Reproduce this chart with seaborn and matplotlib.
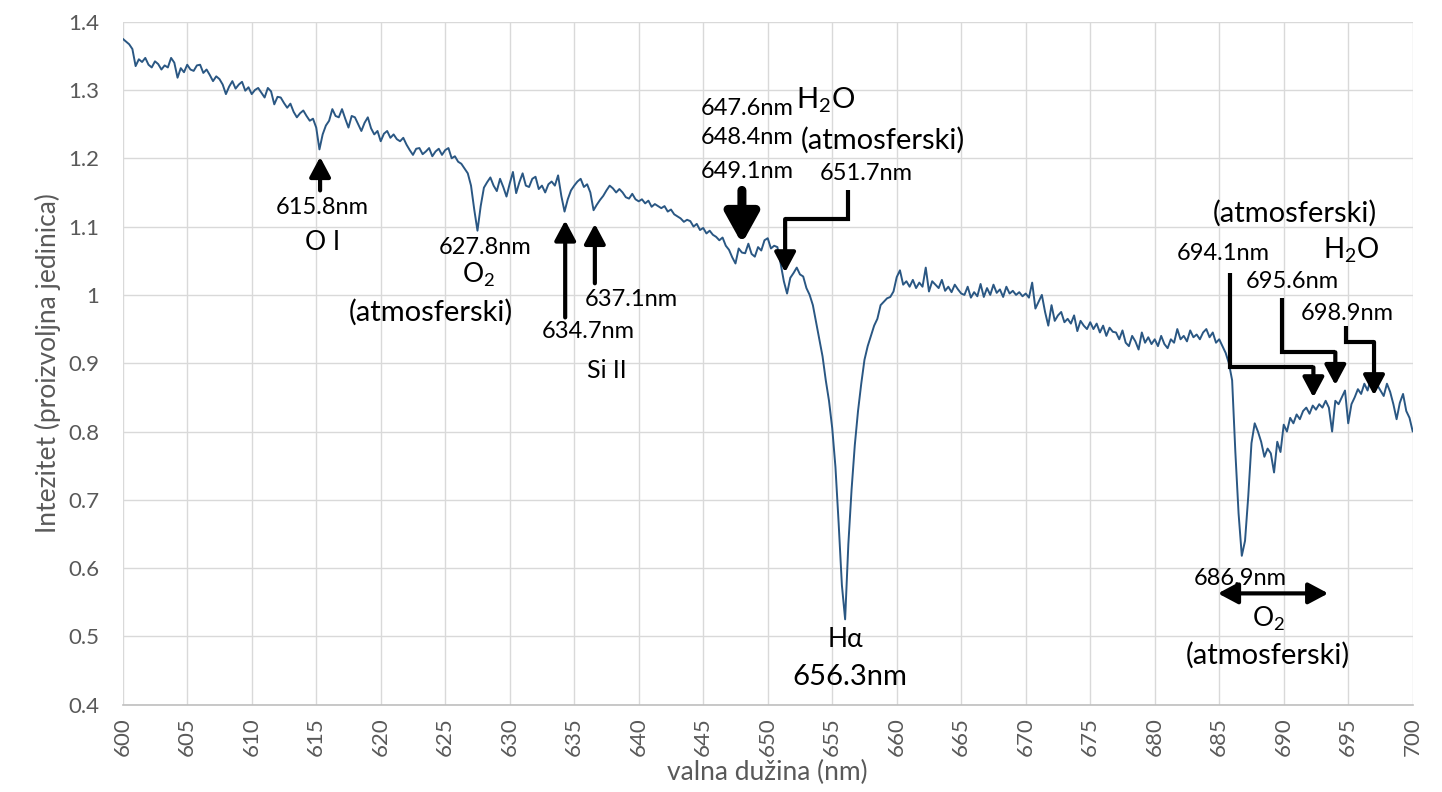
import matplotlib
matplotlib.use("Agg")

import numpy as np
import pandas as pd
import matplotlib.pyplot as plt
import seaborn as sns

wavelength = np.arange(600, 700.001, 0.25)
intensity = [
    1.375, 1.371, 1.367, 1.360, 1.335, 1.345, 1.341, 1.347, 1.337, 1.333, 1.342, 1.338, 1.330, 1.336, 1.333, 1.347, 1.340, 1.318, 1.332, 1.326,  # 600
    1.337, 1.330, 1.328, 1.336, 1.337, 1.325, 1.330, 1.322, 1.313, 1.320, 1.316, 1.308, 1.294, 1.305, 1.313, 1.302, 1.308, 1.312, 1.299, 1.304,  # 605
    1.294, 1.300, 1.303, 1.296, 1.289, 1.303, 1.298, 1.279, 1.290, 1.289, 1.281, 1.274, 1.280, 1.268, 1.260, 1.266, 1.270, 1.262, 1.255, 1.258,  # 610
    1.245, 1.213, 1.235, 1.248, 1.255, 1.272, 1.262, 1.260, 1.272, 1.258, 1.245, 1.262, 1.260, 1.250, 1.240, 1.252, 1.260, 1.244, 1.235, 1.240,  # 615
    1.225, 1.236, 1.240, 1.230, 1.235, 1.228, 1.225, 1.230, 1.220, 1.212, 1.205, 1.214, 1.215, 1.206, 1.210, 1.215, 1.203, 1.210, 1.214, 1.205,  # 620
    1.212, 1.215, 1.200, 1.203, 1.195, 1.192, 1.185, 1.178, 1.160, 1.125, 1.094, 1.130, 1.157, 1.165, 1.172, 1.160, 1.152, 1.170, 1.158, 1.144,  # 625
    1.163, 1.180, 1.149, 1.165, 1.178, 1.160, 1.158, 1.170, 1.173, 1.155, 1.160, 1.150, 1.162, 1.166, 1.160, 1.175, 1.145, 1.122, 1.140, 1.153,  # 630
    1.160, 1.166, 1.170, 1.158, 1.162, 1.150, 1.124, 1.132, 1.139, 1.145, 1.153, 1.160, 1.156, 1.150, 1.155, 1.150, 1.143, 1.141, 1.148, 1.140,  # 635
    1.137, 1.140, 1.134, 1.138, 1.129, 1.133, 1.130, 1.127, 1.130, 1.122, 1.125, 1.118, 1.115, 1.112, 1.107, 1.110, 1.108, 1.100, 1.104, 1.095,  # 640
    1.098, 1.090, 1.094, 1.088, 1.085, 1.080, 1.084, 1.072, 1.066, 1.055, 1.046, 1.068, 1.062, 1.061, 1.075, 1.060, 1.056, 1.070, 1.065, 1.080,  # 645
    1.083, 1.068, 1.072, 1.070, 1.046, 1.020, 1.002, 1.025, 1.032, 1.040, 1.030, 1.027, 1.010, 1.000, 0.985, 0.960, 0.935, 0.910, 0.875, 0.845,  # 650
    0.805, 0.748, 0.665, 0.575, 0.525, 0.635, 0.715, 0.780, 0.830, 0.870, 0.905, 0.925, 0.940, 0.955, 0.965, 0.985, 0.990, 0.995, 0.997, 1.005,  # 655
    1.026, 1.036, 1.015, 1.020, 1.012, 1.022, 1.010, 1.018, 1.012, 1.040, 1.005, 1.020, 1.015, 1.010, 1.022, 1.006, 1.012, 1.004, 1.015, 1.008,  # 660
    1.002, 1.000, 1.012, 0.996, 1.004, 0.998, 1.016, 0.997, 1.010, 1.000, 1.015, 1.003, 1.008, 0.997, 1.012, 1.002, 1.006, 1.000, 1.004, 0.998,  # 665
    1.002, 0.996, 1.018, 0.980, 0.990, 1.000, 0.975, 0.955, 0.985, 0.962, 0.970, 0.975, 0.960, 0.965, 0.958, 0.970, 0.947, 0.962, 0.955, 0.950,  # 670
    0.960, 0.950, 0.958, 0.945, 0.955, 0.940, 0.952, 0.946, 0.945, 0.935, 0.948, 0.930, 0.925, 0.940, 0.932, 0.920, 0.945, 0.930, 0.938, 0.928,  # 675
    0.935, 0.925, 0.940, 0.928, 0.922, 0.935, 0.930, 0.950, 0.935, 0.940, 0.932, 0.948, 0.938, 0.942, 0.935, 0.945, 0.950, 0.938, 0.945, 0.930,  # 680
    0.935, 0.925, 0.915, 0.900, 0.875, 0.770, 0.680, 0.618, 0.640, 0.705, 0.783, 0.812, 0.800, 0.785, 0.763, 0.775, 0.768, 0.740, 0.785, 0.770,  # 685
    0.810, 0.800, 0.820, 0.812, 0.825, 0.818, 0.830, 0.835, 0.826, 0.838, 0.832, 0.840, 0.835, 0.845, 0.835, 0.800, 0.845, 0.840, 0.850, 0.860,  # 690
    0.812, 0.840, 0.850, 0.862, 0.855, 0.870, 0.860, 0.878, 0.865, 0.868, 0.860, 0.852, 0.870, 0.858, 0.840, 0.818, 0.842, 0.855, 0.830, 0.820,  # 695
    0.800,
]

x_ticks = list(range(600, 701, 5))
y_ticks = [0.4, 0.5, 0.6, 0.7, 0.8, 0.9, 1.0, 1.1, 1.2, 1.3, 1.4]
y_tick_labels = ["0.4", "0.5", "0.6", "0.7", "0.8", "0.9", "1", "1.1", "1.2", "1.3", "1.4"]

spectrum = pd.DataFrame({"valna": wavelength, "intenzitet": intensity})

sns.set_style("whitegrid")
plt.rcParams["font.family"] = ["Lato", "DejaVu Sans"]
plt.rcParams["mathtext.fontset"] = "custom"
plt.rcParams["mathtext.rm"] = "Lato"
plt.rcParams["mathtext.it"] = "Lato"

fig = plt.figure(figsize=(14.42, 7.92), dpi=100)
ax = fig.add_axes([0.0851, 0.1102, 0.8946, 0.8624])

sns.lineplot(data=spectrum, x="valna", y="intenzitet", ax=ax,
             color="#2a5783", linewidth=1.4)

ax.set_xlim(600, 700)
ax.set_ylim(0.4, 1.4)
ax.set_xticks(x_ticks)
ax.set_xticklabels([str(t) for t in x_ticks], rotation=90)
ax.set_yticks(y_ticks)
ax.set_yticklabels(y_tick_labels)
ax.tick_params(axis="both", labelsize=16, colors="#595959", length=0)
ax.tick_params(axis="y", pad=17)
ax.tick_params(axis="x", pad=9)
ax.grid(color="#d9d9d9", linewidth=1)
for s in ["top", "right", "left"]:
    ax.spines[s].set_visible(False)
ax.spines["bottom"].set_color("#bfbfbf")
ax.spines["bottom"].set_linewidth(1.2)

ax.set_xlabel("valna dužina (nm)", fontsize=19, color="#595959", labelpad=3)
ax.set_ylabel("Intezitet (proizvoljna jedinica)", fontsize=19, color="#595959", labelpad=5)


def label(x, y, s, size=17):
    ax.text(x, y, s, fontsize=size, ha="center", va="center", color="black")


def arrow(x0, y0, x1, y1, lw=3, hw=0.32, hl=0.6, style="-|>"):
    ax.annotate("", xy=(x1, y1), xytext=(x0, y0),
                arrowprops=dict(arrowstyle=f"{style},head_width={hw},head_length={hl}",
                                lw=lw, color="black", shrinkA=0, shrinkB=0,
                                mutation_scale=20))


def elbow(xs, ys):
    ax.plot(xs[:-1], ys[:-1], color="black", lw=3, solid_joinstyle="miter",
            solid_capstyle="butt")
    arrow(xs[-2], ys[-2], xs[-1], ys[-1])


# labels
label(615.5, 1.128, "615.8nm")
label(615.5, 1.077, "O I", 19)
label(628.1, 1.069, "627.8nm")
label(627.6, 1.029, "O$_2$", 19)
label(623.9, 0.975, "(atmosferski)", 21)
label(639.4, 0.994, "637.1nm")
label(636.1, 0.946, "634.7nm")
label(637.5, 0.889, "Si II", 18)
label(648.4, 1.273, "647.6nm")
label(648.4, 1.231, "648.4nm")
label(648.4, 1.180, "649.1nm")
label(654.5, 1.285, "H$_2$O", 21)
label(658.9, 1.227, "(atmosferski)", 21)
label(657.6, 1.178, "651.7nm")
label(690.9, 1.120, "(atmosferski)", 21)
label(695.2, 1.066, "H$_2$O", 20)
label(685.3, 1.061, "694.1nm")
label(690.7, 1.019, "695.6nm")
label(694.9, 0.973, "698.9nm")
label(656.0, 0.495, "Hα", 19)
label(656.4, 0.441, "656.3nm", 21)
label(686.6, 0.585, "686.9nm")
label(688.8, 0.525, "O$_2$", 19)
label(688.8, 0.473, "(atmosferski)", 21)

# arrows
arrow(615.3, 1.153, 615.3, 1.202)
arrow(634.3, 0.967, 634.3, 1.109)
arrow(636.6, 1.017, 636.6, 1.104)
arrow(648.0, 1.153, 648.0, 1.075, lw=6.5, hw=0.5, hl=0.9)
elbow([656.2, 656.2, 651.35, 651.35], [1.153, 1.111, 1.111, 1.033])
elbow([685.85, 685.85, 692.3, 692.3], [1.032, 0.894, 0.894, 0.850])
elbow([689.9, 689.9, 694.0, 694.0], [0.995, 0.916, 0.916, 0.868])
elbow([694.8, 694.8, 697.0, 697.0], [0.955, 0.931, 0.931, 0.853])
arrow(684.9, 0.563, 693.45, 0.563, style="<|-|>")

fig.savefig("out.png", dpi=100)
